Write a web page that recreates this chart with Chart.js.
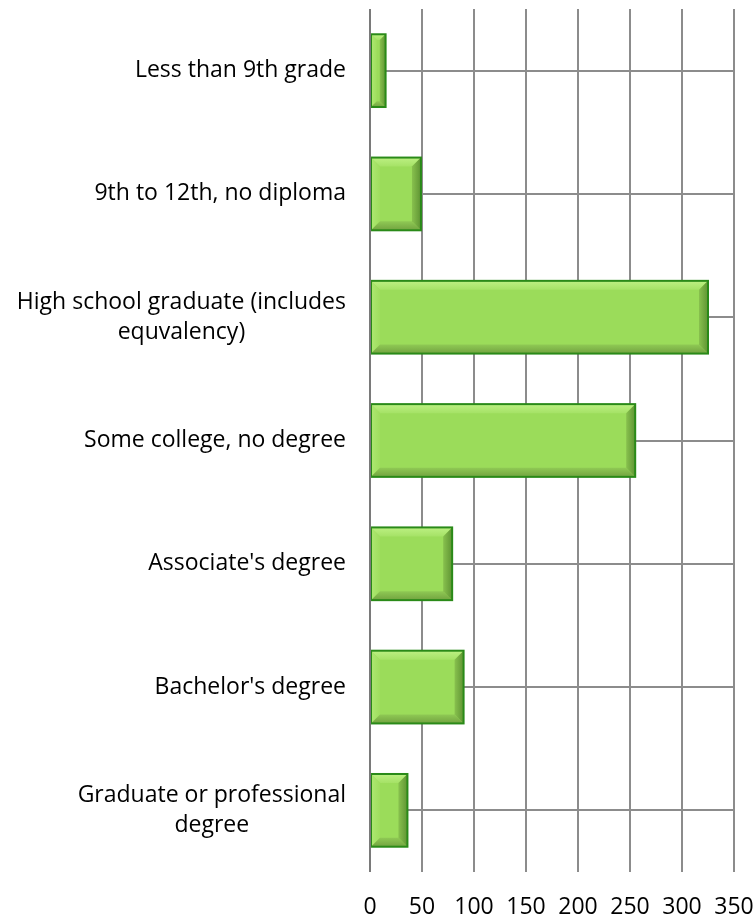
<!DOCTYPE html>
<html>
<head>
<meta charset="utf-8">
<script src="https://cdn.jsdelivr.net/npm/chart.js@4.4.0/dist/chart.umd.min.js"></script>
<style>
  html, body { margin: 0; padding: 0; background: #fff; }
  #wrap { width: 755px; height: 918px; }
</style>
</head>
<body>
<div id="wrap"><canvas id="eduChart" width="755" height="918"></canvas></div>
<script>
// --- Data ---
const categories = [
  ["Less than 9th grade"],
  ["9th to 12th, no diploma"],
  ["High school graduate (includes", "equvalency)"],
  ["Some college, no degree"],
  ["Associate's degree"],
  ["Bachelor's degree"],
  ["Graduate or professional", "degree"],
];
const counts = [15, 49, 325, 255, 79, 90, 36];
const xTicks = [0, 50, 100, 150, 200, 250, 300, 350];

const labelFont = "23px 'Open Sans'";
const gridGray = "#8c8c8c";

// --- draws the category labels: lines centered on each other, block right-aligned ---
const categoryLabels = {
  id: "categoryLabels",
  afterDraw(chart) {
    const ctx = chart.ctx;
    const yScale = chart.scales.y;
    ctx.save();
    ctx.font = labelFont;
    ctx.fillStyle = "#000";
    ctx.textAlign = "center";
    ctx.textBaseline = "middle";
    const lineH = 30;
    yScale.ticks.forEach((t, i) => {
      const lines = categories[i];
      const w = Math.max(...lines.map((l) => ctx.measureText(l).width));
      const cx = yScale.right - 24 - w / 2;
      const cy = yScale.getPixelForTick(i);
      lines.forEach((l, j) => {
        ctx.fillText(l, cx, cy + (j - (lines.length - 1) / 2) * lineH);
      });
    });
    ctx.restore();
  },
};

// --- bevelled bars like the office chart ---
const bevelBars = {
  id: "bevelBars",
  afterDatasetsDraw(chart) {
    const ctx = chart.ctx;
    const meta = chart.getDatasetMeta(0);
    ctx.save();
    meta.data.forEach((bar) => {
      const { x, y, base, height } = bar.getProps(["x", "y", "base", "height"], true);
      const l = base, r = x, t = y - height / 2, b = y + height / 2;
      const bv = Math.min(9, (r - l) / 2.5);

      // face
      ctx.fillStyle = "#9bdc5a";
      ctx.fillRect(l, t, r - l, b - t);

      // top band
      let g = ctx.createLinearGradient(0, t, 0, t + bv);
      g.addColorStop(0, "#bdf083");
      g.addColorStop(1, "#a5e266");
      ctx.fillStyle = g;
      ctx.beginPath();
      ctx.moveTo(l, t); ctx.lineTo(r, t); ctx.lineTo(r - bv, t + bv); ctx.lineTo(l + bv, t + bv);
      ctx.closePath(); ctx.fill();

      // left band
      g = ctx.createLinearGradient(l, 0, l + bv, 0);
      g.addColorStop(0, "#aee872");
      g.addColorStop(1, "#9fde5e");
      ctx.fillStyle = g;
      ctx.beginPath();
      ctx.moveTo(l, t); ctx.lineTo(l + bv, t + bv); ctx.lineTo(l + bv, b - bv); ctx.lineTo(l, b);
      ctx.closePath(); ctx.fill();

      // bottom band
      g = ctx.createLinearGradient(0, b - bv, 0, b);
      g.addColorStop(0, "#8fc954");
      g.addColorStop(1, "#72a340");
      ctx.fillStyle = g;
      ctx.beginPath();
      ctx.moveTo(l, b); ctx.lineTo(l + bv, b - bv); ctx.lineTo(r - bv, b - bv); ctx.lineTo(r, b);
      ctx.closePath(); ctx.fill();

      // right band
      g = ctx.createLinearGradient(r - bv, 0, r, 0);
      g.addColorStop(0, "#88c14e");
      g.addColorStop(1, "#5f9433");
      ctx.fillStyle = g;
      ctx.beginPath();
      ctx.moveTo(r, t); ctx.lineTo(r, b); ctx.lineTo(r - bv, b - bv); ctx.lineTo(r - bv, t + bv);
      ctx.closePath(); ctx.fill();

      // outline
      ctx.strokeStyle = "#2a8a18";
      ctx.lineWidth = 2;
      ctx.strokeRect(l, t, r - l, b - t);
    });

    // y axis line on top of bars
    const xs = chart.scales.x;
    ctx.strokeStyle = "#7a7a7a";
    ctx.lineWidth = 2;
    ctx.beginPath();
    ctx.moveTo(xs.getPixelForValue(0), chart.chartArea.top);
    ctx.lineTo(xs.getPixelForValue(0), chart.chartArea.bottom);
    ctx.stroke();
    ctx.restore();
  },
};

new Chart(document.getElementById("eduChart"), {
  type: "bar",
  data: {
    labels: categories,
    datasets: [
      {
        data: counts,
        backgroundColor: "#9bdc5a",
        borderColor: "#2a8a18",
        borderWidth: 0,
        barPercentage: 0.59,
        categoryPercentage: 1,
      },
    ],
  },
  options: {
    indexAxis: "y",
    responsive: false,
    animation: false,
    layout: { padding: { top: 9, right: 0, bottom: 0, left: 0 } },
    plugins: {
      legend: { display: false },
      tooltip: { enabled: false },
    },
    scales: {
      x: {
        min: 0,
        max: 350,
        afterBuildTicks: (s) => { s.ticks = xTicks.map((v) => ({ value: v })); },
        ticks: {
          font: { family: "'Open Sans'", size: 23 },
          color: "#000",
          padding: 22,
          maxRotation: 0,
          minRotation: 0,
          autoSkip: false,
        },
        grid: { color: gridGray, lineWidth: 2, drawTicks: false },
        border: { display: false },
        afterFit: (s) => {
          s.height = 46;
          s.paddingLeft = 0;
          s.paddingRight = 21;
        },
      },
      y: {
        grid: { offset: false, color: gridGray, lineWidth: 2, drawTicks: false },
        border: { display: false },
        ticks: { color: "transparent", font: { size: 1 } },
        afterFit: (s) => { s.width = 370; },
      },
    },
  },
  plugins: [categoryLabels, bevelBars],
});
</script>
</body>
</html>
